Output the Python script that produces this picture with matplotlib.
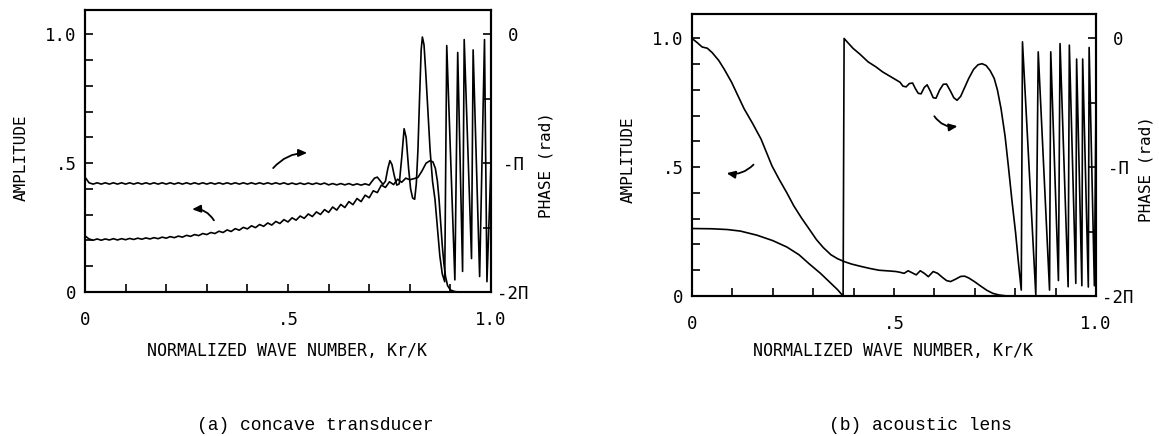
import matplotlib
matplotlib.use("Agg")
import matplotlib.pyplot as plt
from matplotlib.patches import FancyArrowPatch
import numpy as np

# ---- (a) concave transducer ----
amp_a_x = [0.00, 0.01, 0.02, 0.03, 0.04, 0.05, 0.06, 0.07, 0.08, 0.09,
           0.10, 0.11, 0.12, 0.13, 0.14, 0.15, 0.16, 0.17, 0.18, 0.19,
           0.20, 0.21, 0.22, 0.23, 0.24, 0.25, 0.26, 0.27, 0.28, 0.29,
           0.30, 0.31, 0.32, 0.33, 0.34, 0.35, 0.36, 0.37, 0.38, 0.39,
           0.40, 0.41, 0.42, 0.43, 0.44, 0.45, 0.46, 0.47, 0.48, 0.49,
           0.50, 0.51, 0.52, 0.53, 0.54, 0.55, 0.56, 0.57, 0.58, 0.59,
           0.60, 0.61, 0.62, 0.63, 0.64, 0.65, 0.66, 0.67, 0.68, 0.69,
           0.70, 0.71, 0.72, 0.73, 0.74, 0.75, 0.76, 0.77, 0.78, 0.79,
           0.80, 0.81, 0.82, 0.83, 0.84, 0.85, 0.857, 0.863, 0.868, 0.872,
           0.876, 0.880, 0.884, 0.888, 0.893, 0.900, 0.910, 0.920, 1.00]
amp_a_y = [0.218, 0.206, 0.201, 0.206, 0.201, 0.206, 0.202, 0.207, 0.202, 0.207,
           0.203, 0.208, 0.204, 0.209, 0.205, 0.210, 0.206, 0.211, 0.207, 0.213,
           0.209, 0.215, 0.211, 0.217, 0.213, 0.220, 0.216, 0.223, 0.219, 0.227,
           0.223, 0.231, 0.227, 0.236, 0.231, 0.241, 0.235, 0.246, 0.240, 0.251,
           0.245, 0.257, 0.250, 0.262, 0.255, 0.268, 0.260, 0.274, 0.266, 0.281,
           0.272, 0.288, 0.279, 0.295, 0.286, 0.303, 0.293, 0.311, 0.301, 0.320,
           0.309, 0.330, 0.318, 0.340, 0.328, 0.351, 0.339, 0.363, 0.351, 0.376,
           0.366, 0.393, 0.386, 0.415, 0.406, 0.428, 0.417, 0.438, 0.426, 0.442,
           0.436, 0.440, 0.445, 0.470, 0.500, 0.510, 0.505, 0.480, 0.430, 0.360,
           0.270, 0.180, 0.110, 0.060, 0.025, 0.008, 0.002, 0.000, 0.000]

phase_a_x = [0.00, 0.01, 0.02, 0.03, 0.04, 0.05, 0.06, 0.07, 0.08, 0.09,
             0.10, 0.11, 0.12, 0.13, 0.14, 0.15, 0.16, 0.17, 0.18, 0.19,
             0.20, 0.21, 0.22, 0.23, 0.24, 0.25, 0.26, 0.27, 0.28, 0.29,
             0.30, 0.31, 0.32, 0.33, 0.34, 0.35, 0.36, 0.37, 0.38, 0.39,
             0.40, 0.41, 0.42, 0.43, 0.44, 0.45, 0.46, 0.47, 0.48, 0.49,
             0.50, 0.51, 0.52, 0.53, 0.54, 0.55, 0.56, 0.57, 0.58, 0.59,
             0.60, 0.61, 0.62, 0.63, 0.64, 0.65, 0.66, 0.67, 0.68, 0.69,
             0.700, 0.706, 0.713, 0.720, 0.727, 0.734, 0.740, 0.746, 0.751, 0.756,
             0.762, 0.768, 0.774, 0.780, 0.786, 0.791, 0.797, 0.802, 0.807, 0.812,
             0.816, 0.820, 0.824, 0.828, 0.831, 0.835, 0.839, 0.844, 0.850, 0.856,
             0.862, 0.868, 0.874, 0.880, 0.886, 0.891, 0.911, 0.918, 0.930,
             0.934, 0.952, 0.956, 0.972, 0.984, 0.990, 1.000]
phase_a_y = [0.446, 0.424, 0.419, 0.424, 0.419, 0.424, 0.419, 0.424, 0.419, 0.424,
             0.419, 0.424, 0.419, 0.424, 0.419, 0.424, 0.419, 0.424, 0.419, 0.424,
             0.419, 0.424, 0.419, 0.424, 0.419, 0.424, 0.419, 0.424, 0.419, 0.424,
             0.419, 0.424, 0.419, 0.424, 0.419, 0.424, 0.419, 0.424, 0.419, 0.424,
             0.419, 0.424, 0.419, 0.424, 0.419, 0.424, 0.419, 0.424, 0.419, 0.424,
             0.418, 0.423, 0.418, 0.423, 0.418, 0.423, 0.418, 0.423, 0.418, 0.423,
             0.416, 0.421, 0.416, 0.421, 0.416, 0.421, 0.415, 0.420, 0.415, 0.420,
             0.415, 0.428, 0.442, 0.446, 0.432, 0.418, 0.430, 0.480, 0.510, 0.495,
             0.450, 0.415, 0.420, 0.520, 0.634, 0.600, 0.480, 0.400, 0.365, 0.360,
             0.420, 0.550, 0.750, 0.940, 0.990, 0.960, 0.860, 0.720, 0.550, 0.430,
             0.360, 0.250, 0.140, 0.070, 0.040, 0.957, 0.047, 0.930, 0.080,
             0.980, 0.130, 0.940, 0.060, 0.980, 0.040, 0.500]

# ---- (b) acoustic lens ----
amp_b_x = [0.000, 0.012, 0.025, 0.038, 0.050, 0.066, 0.080, 0.098, 0.113, 0.129,
           0.150, 0.171, 0.198, 0.215, 0.235, 0.252, 0.271, 0.290, 0.308, 0.325,
           0.344, 0.360, 0.376, 0.395, 0.418, 0.440, 0.463, 0.490, 0.505, 0.515,
           0.525, 0.535, 0.545, 0.555, 0.565, 0.575, 0.585, 0.597, 0.608, 0.620,
           0.630, 0.640, 0.652, 0.665, 0.675, 0.685, 0.700, 0.715, 0.730, 0.745,
           0.760, 0.780, 1.000]
amp_b_y = [1.000, 0.985, 0.967, 0.962, 0.945, 0.915, 0.880, 0.830, 0.780, 0.727,
           0.670, 0.609, 0.505, 0.455, 0.400, 0.350, 0.303, 0.260, 0.219, 0.188,
           0.160, 0.145, 0.134, 0.124, 0.115, 0.107, 0.100, 0.097, 0.095, 0.092,
           0.088, 0.098, 0.090, 0.082, 0.098, 0.088, 0.075, 0.095, 0.088, 0.072,
           0.060, 0.056, 0.065, 0.076, 0.077, 0.070, 0.055, 0.038, 0.022, 0.010,
           0.004, 0.000, 0.000]

phase_b_x = [0.000, 0.050, 0.088, 0.120, 0.161, 0.200, 0.235, 0.265, 0.290, 0.318,
             0.344, 0.360, 0.374, 0.3765, 0.385, 0.399, 0.415, 0.436, 0.455, 0.472,
             0.500, 0.515, 0.522, 0.530, 0.538, 0.546, 0.553, 0.560, 0.567, 0.575,
             0.582, 0.590, 0.597, 0.604, 0.613, 0.622, 0.630, 0.640, 0.648, 0.656,
             0.665, 0.675, 0.685, 0.697, 0.708, 0.718, 0.728, 0.738, 0.748, 0.756,
             0.765, 0.775, 0.783, 0.792, 0.801, 0.808, 0.815, 0.818, 0.851, 0.857,
             0.885, 0.888, 0.907, 0.911, 0.931, 0.934, 0.950, 0.952, 0.965, 0.967,
             0.981, 0.983, 0.996, 1.000]
phase_b_y = [0.262, 0.261, 0.258, 0.252, 0.236, 0.215, 0.190, 0.160, 0.125, 0.088,
             0.049, 0.025, 0.000, 1.000, 0.985, 0.961, 0.940, 0.909, 0.890, 0.870,
             0.844, 0.830, 0.815, 0.812, 0.825, 0.827, 0.805, 0.787, 0.785, 0.810,
             0.820, 0.795, 0.770, 0.768, 0.800, 0.822, 0.823, 0.795, 0.770, 0.760,
             0.775, 0.810, 0.845, 0.880, 0.898, 0.902, 0.895, 0.875, 0.845, 0.800,
             0.727, 0.620, 0.505, 0.370, 0.245, 0.130, 0.023, 0.987, 0.004, 0.948,
             0.023, 0.948, 0.060, 0.980, 0.036, 0.974, 0.049, 0.920, 0.040, 0.920,
             0.035, 0.965, 0.040, 0.750]

xlabel = "NORMALIZED WAVE NUMBER, Kr/K"
captions = ["(a) concave transducer", "(b) acoustic lens"]

mono = "DejaVu Sans Mono"
W, H = 1159, 436
fig = plt.figure(figsize=(W / 100, H / 100), dpi=100)

YTOP = 1.095
TWO_PI = 2 * np.pi


def setup(rect, amp_x, amp_y, ph_x, ph_y):
    ax = fig.add_axes(rect)
    ax.plot(amp_x, amp_y, color="black", lw=1.2)
    ax.plot(ph_x, ph_y, color="black", lw=1.2)
    ax.set_xlim(0, 1.0)
    ax.set_ylim(0, YTOP)
    for s in ax.spines.values():
        s.set_linewidth(1.5)
    ax.set_xticks(np.arange(0, 1.01, 0.1))
    ax.set_xticklabels(["0", "", "", "", "", ".5", "", "", "", "", "1.0"])
    ax.set_yticks(np.arange(0, 1.01, 0.1))
    ax.set_yticklabels(["0", "", "", "", "", ".5", "", "", "", "", "1.0"])
    ax.tick_params(axis="x", direction="in", length=6, width=1.2, pad=14,
                   labelsize=12.5)
    ax.tick_params(axis="y", direction="in", length=6, width=1.2, pad=6,
                   labelsize=12.5)
    for lbl in ax.get_xticklabels() + ax.get_yticklabels():
        lbl.set_fontfamily(mono)

    # phase axis on the right, -2pi .. 0 over the same height as 0 .. 1
    ax2 = ax.twinx()
    ax2.set_ylim(-TWO_PI, -TWO_PI + YTOP * TWO_PI)
    ax2.set_yticks([-TWO_PI, -1.5 * np.pi, -np.pi, -0.5 * np.pi, 0])
    ax2.set_yticklabels(["-2\u03a0", "", "-\u03a0", "", "0"])
    ax2.tick_params(axis="y", direction="in", length=6, width=1.2, pad=16,
                    labelsize=12.5)
    for lbl in ax2.get_yticklabels():
        lbl.set_fontfamily(mono)
        lbl.set_horizontalalignment("center")
    for s in ax2.spines.values():
        s.set_linewidth(1.5)
    return ax


def arrow(ax, tail, tip, rad):
    ax.add_patch(FancyArrowPatch(tail, tip, connectionstyle=f"arc3,rad={rad}",
                                 arrowstyle="-|>,head_length=5,head_width=2.2",
                                 color="black", lw=1.3))


ax_a = setup([85 / W, 1 - 292 / H, 406 / W, 282 / H],
             amp_a_x, amp_a_y, phase_a_x, phase_a_y)
arrow(ax_a, (0.459, 0.473), (0.554, 0.54), -0.25)
arrow(ax_a, (0.321, 0.269), (0.257, 0.32), 0.35)

ax_b = setup([692 / W, 1 - 296 / H, 404 / W, 282 / H],
             amp_b_x, amp_b_y, phase_b_x, phase_b_y)
arrow(ax_b, (0.157, 0.518), (0.079, 0.479), -0.3)
arrow(ax_b, (0.596, 0.707), (0.664, 0.661), 0.35)

# axis titles and captions
for cx, cy, t in [(21, 158, "AMPLITUDE"), (628, 160, "AMPLITUDE")]:
    fig.text(cx / W, 1 - cy / H, t, rotation=90, ha="center", va="center",
             family=mono, fontsize=11.5)
for cx, cy in [(546, 165), (1146, 169)]:
    fig.text(cx / W, 1 - cy / H, "PHASE (rad)", rotation=90, ha="center",
             va="center", family=mono, fontsize=11.5)
for cx in [287, 893]:
    fig.text(cx / W, 1 - 351 / H, xlabel, ha="center", va="center",
             family=mono, fontsize=12)
for cx, t in zip([315, 920], captions):
    fig.text(cx / W, 1 - 425 / H, t, ha="center", va="center",
             family="Liberation Mono", fontsize=13)

fig.savefig("out.png", dpi=100)
